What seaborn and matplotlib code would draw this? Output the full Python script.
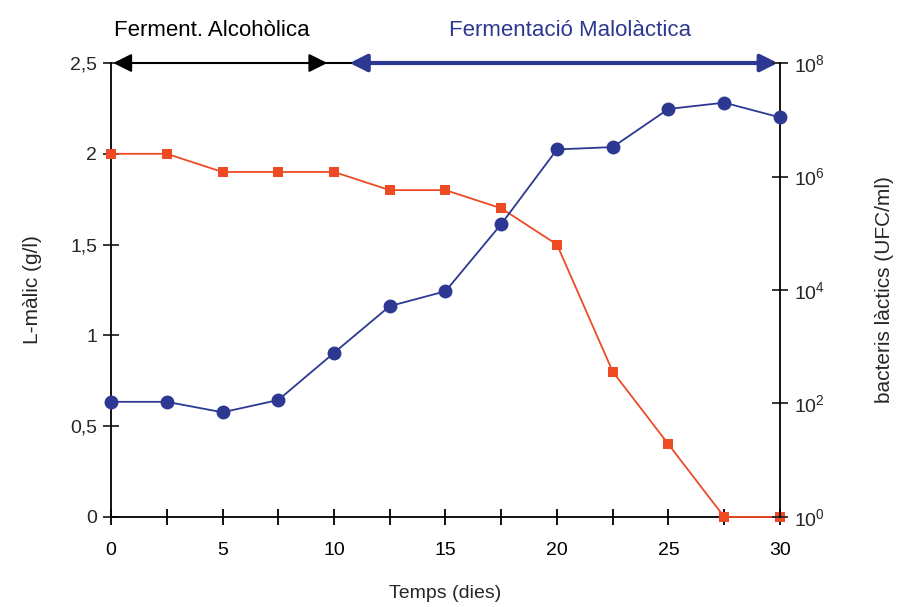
import math
import matplotlib
matplotlib.use("Agg")
import matplotlib.pyplot as plt
import seaborn as sns
import pandas as pd
from matplotlib.ticker import FixedLocator, FuncFormatter, NullLocator

# --- data ---
dies = [0, 2.5, 5, 7.5, 10, 12.5, 15, 17.5, 20, 22.5, 25, 27.5, 30]
malic = [2.0, 2.0, 1.9, 1.9, 1.9, 1.8, 1.8, 1.7, 1.5, 0.8, 0.4, 0.0, 0.0]
bacteris = [1.07e2, 1.07e2, 7.0e1, 1.15e2, 7.8e2, 5.2e3, 9.5e3, 1.45e5,
            3.0e6, 3.3e6, 1.55e7, 2.0e7, 1.1e7]
left_ticks = [0, 0.5, 1, 1.5, 2, 2.5]
right_ticks = [1e0, 1e2, 1e4, 1e6, 1e8]
x_major = [0, 5, 10, 15, 20, 25, 30]
x_minor = [2.5, 7.5, 12.5, 17.5, 22.5, 27.5]
fase1 = "Ferment. Alcohòlica"
fase2 = "Fermentació Malolàctica"

sns.set_style("ticks")
plt.rcParams['font.family'] = ['Liberation Sans', 'DejaVu Sans']
plt.rcParams['mathtext.fontset'] = 'custom'
plt.rcParams['mathtext.rm'] = 'Liberation Sans'
plt.rcParams['mathtext.it'] = 'Liberation Sans:italic'
plt.rcParams['mathtext.bf'] = 'Liberation Sans:bold'

RED = "#EE4B25"
BLUE = "#2C3892"

df = pd.DataFrame({"dies": dies, "malic": malic, "bacteris": bacteris})

fig = plt.figure(figsize=(9.01, 6.07), dpi=100)
ax = fig.add_axes([0.1232, 0.1483, 0.7425, 0.7479])

sns.lineplot(data=df, x="dies", y="malic", ax=ax, color=RED, marker="s",
             markersize=7.5, markeredgewidth=0, linewidth=1.3, clip_on=False, zorder=5)
ax.set_xlim(0, 30)
ax.set_ylim(0, 2.5)
ax.set_yticks(left_ticks)
ax.yaxis.set_major_formatter(FuncFormatter(lambda v, p: f"{v:g}".replace(".", ",")))
ax.xaxis.set_major_locator(FixedLocator(x_major))
ax.xaxis.set_minor_locator(FixedLocator(x_minor))
ax.tick_params(axis="x", which="both", direction="inout", length=12, width=1.3,
               labelsize=14, pad=12, colors="black")
ax.tick_params(axis="y", direction="inout", length=12, width=1.3, labelsize=14, pad=4)
ax.set_xlabel("Temps (dies)", fontsize=14, labelpad=19)
ax.set_ylabel("L-màlic (g/l)", fontsize=15, labelpad=20)
for s in ["top", "right"]:
    ax.spines[s].set_visible(False)
for s in ["left", "bottom"]:
    ax.spines[s].set_linewidth(1.3)
    ax.spines[s].set_color("black")

ax2 = ax.twinx()
sns.lineplot(data=df, x="dies", y="bacteris", ax=ax2, color=BLUE, marker="o",
             markersize=10, markeredgewidth=0, linewidth=1.3, clip_on=False, zorder=6)
ax2.set_yscale("log")
ax2.set_ylim(1, 1e8)
ax2.yaxis.set_major_locator(FixedLocator(right_ticks))
ax2.yaxis.set_minor_locator(NullLocator())
ax2.yaxis.set_major_formatter(FuncFormatter(lambda v, p: r"$10^{%d}$" % round(math.log10(v))))
ax2.tick_params(axis="y", direction="inout", length=12, width=1.3, labelsize=14, pad=4)
ax2.set_ylabel("bacteris làctics (UFC/ml)", fontsize=15, labelpad=36)
for s in ["top", "left", "bottom"]:
    ax2.spines[s].set_visible(False)
ax2.spines["right"].set_linewidth(1.3)
ax2.spines["right"].set_color("black")
ax2.set_xlim(0, 30)

# phase arrows
ax.annotate("", xy=(0.1, 2.5), xytext=(9.7, 2.5), xycoords="data",
            arrowprops=dict(arrowstyle="<|-|>", color="black", lw=1.5,
                            mutation_scale=28, shrinkA=0, shrinkB=0),
            annotation_clip=False, zorder=10)
ax.plot([9.6, 10.8], [2.5, 2.5], color="black", lw=1.5, clip_on=False, zorder=9)
ax.annotate("", xy=(10.7, 2.5), xytext=(29.9, 2.5), xycoords="data",
            arrowprops=dict(arrowstyle="<|-|>", color=BLUE, lw=3,
                            mutation_scale=26, shrinkA=0, shrinkB=0),
            annotation_clip=False, zorder=10)
ax.text(4.5, 2.68, fase1, ha="center", va="center", fontsize=16, color="black")
ax.text(20.6, 2.68, fase2, ha="center", va="center", fontsize=16, color=BLUE)

fig.savefig("out.png", dpi=100)
